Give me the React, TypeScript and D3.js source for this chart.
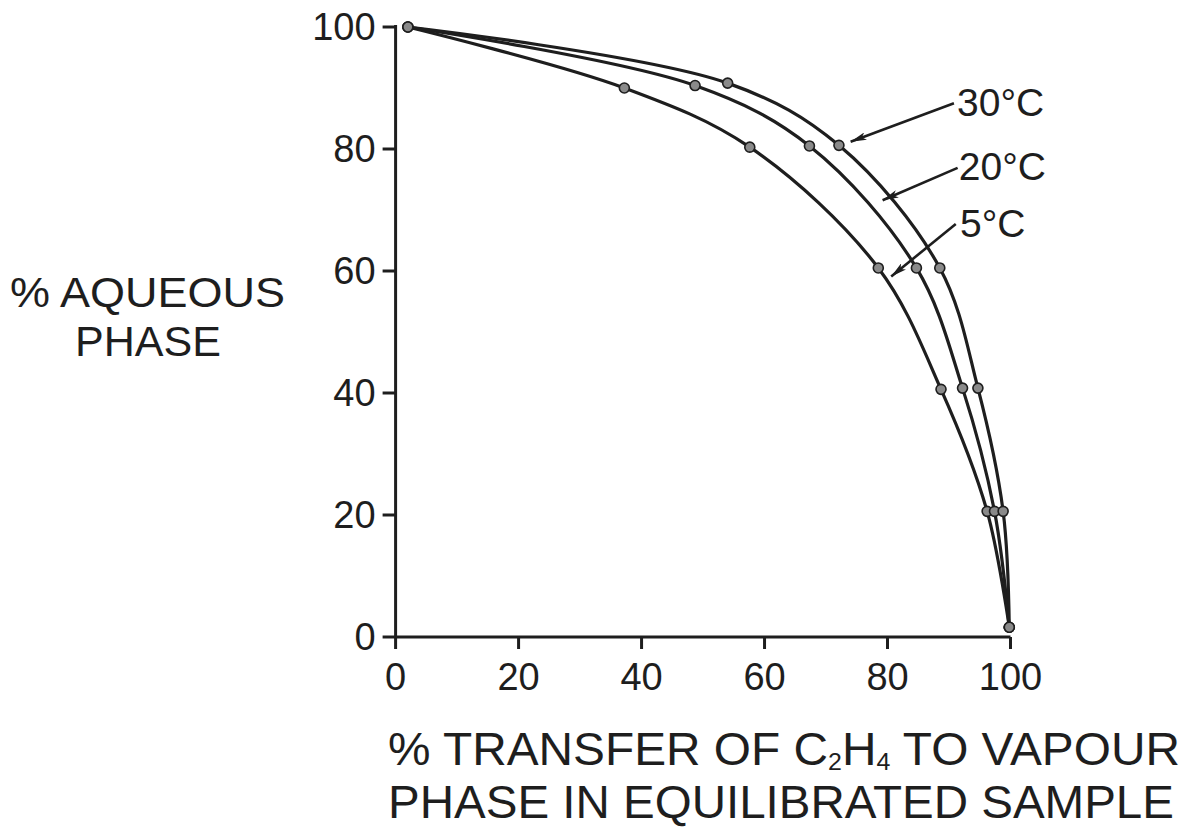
import React from "react";
import * as d3 from "d3";

// ---- data ----
const xTicks = [0, 20, 40, 60, 80, 100];
const yTicks = [0, 20, 40, 60, 80, 100];

const series5C = [
  { x: 2, y: 100 },
  { x: 37.2, y: 90 },
  { x: 57.6, y: 80.3 },
  { x: 78.5, y: 60.5 },
  { x: 88.7, y: 40.6 },
  { x: 96.2, y: 20.6 },
  { x: 99.8, y: 1.6 },
];
const series20C = [
  { x: 2, y: 100 },
  { x: 48.7, y: 90.4 },
  { x: 67.3, y: 80.5 },
  { x: 84.7, y: 60.5 },
  { x: 92.2, y: 40.8 },
  { x: 97.4, y: 20.6 },
  { x: 99.8, y: 1.6 },
];
const series30C = [
  { x: 2, y: 100 },
  { x: 54.0, y: 90.8 },
  { x: 72.1, y: 80.6 },
  { x: 88.5, y: 60.5 },
  { x: 94.7, y: 40.8 },
  { x: 98.8, y: 20.6 },
  { x: 99.8, y: 1.6 },
];

const seriesList = [
  { name: "5°C", data: series5C },
  { name: "20°C", data: series20C },
  { name: "30°C", data: series30C },
];

// arrows: start (label side) and end (on curve), in data units
const arrows = [
  { from: { x: 90.8, y: 87.5 }, to: { x: 74.0, y: 81.2 } },
  { from: { x: 91.4, y: 76.9 }, to: { x: 79.2, y: 71.6 } },
  { from: { x: 91.1, y: 67.7 }, to: { x: 80.6, y: 59.1 } },
];
const curveLabels = [
  { text: "30°C", x: 91.3, y: 85.4 },
  { text: "20°C", x: 91.6, y: 74.9 },
  { text: "5°C", x: 91.8, y: 65.5 },
];

const W = 1192;
const H = 830;
const FONT = "'Liberation Sans', Arial, sans-serif";
const INK = "#1e1e1e";

export default function App() {
  const x = d3.scaleLinear().domain([0, 100]).range([395.6, 1010.5]);
  const y = d3.scaleLinear().domain([0, 100]).range([637, 27]);

  const line = d3
    .line<{ x: number; y: number }>()
    .x((d) => x(d.x))
    .y((d) => y(d.y))
    .curve(d3.curveCatmullRom.alpha(0.5));

  return (
    <svg
      width={W}
      height={H}
      viewBox={`0 0 ${W} ${H}`}
      style={{ position: "absolute", left: 0, top: 0, background: "#fff" }}
    >
      <defs>
        <marker
          id="arr"
          viewBox="0 0 16 8"
          refX="16"
          refY="4"
          markerWidth="16"
          markerHeight="8"
          markerUnits="userSpaceOnUse"
          orient="auto"
        >
          <path d="M0,0 L16,4 L0,8 L4,4 Z" fill={INK} />
        </marker>
      </defs>
      <rect width={W} height={H} fill="#fff" />

      {/* axes */}
      <g stroke={INK} strokeWidth={3} fill="none">
        <line x1={x(0)} x2={x(0)} y1={y(100) - 2} y2={y(0)} />
        <line x1={x(0)} x2={x(100)} y1={y(0)} y2={y(0)} />
        {yTicks.map((t) => (
          <line key={"yt" + t} x1={x(0) - 13} x2={x(0)} y1={y(t)} y2={y(t)} />
        ))}
        {xTicks.map((t) => (
          <line key={"xt" + t} x1={x(t)} x2={x(t)} y1={y(0)} y2={y(0) + 12} />
        ))}
      </g>

      {/* tick labels */}
      <g fill={INK} fontFamily={FONT} fontSize={38}>
        {yTicks.map((t) => (
          <text
            key={"yl" + t}
            x={x(0) - 20}
            y={y(t) + 13}
            textAnchor="end"
          >
            {t}
          </text>
        ))}
        {xTicks.map((t) => (
          <text key={"xl" + t} x={x(t)} y={y(0) + 53} textAnchor="middle">
            {t}
          </text>
        ))}
      </g>

      {/* curves */}
      <g fill="none" stroke={INK} strokeWidth={3.2} strokeLinecap="round">
        {seriesList.map((s) => (
          <path key={s.name} d={line(s.data) || ""} />
        ))}
      </g>

      {/* points */}
      <g fill="#8a8a8a" stroke={INK} strokeWidth={1.6}>
        {seriesList.map((s) =>
          s.data.map((d, i) => (
            <circle key={s.name + i} cx={x(d.x)} cy={y(d.y)} r={5} />
          ))
        )}
      </g>

      {/* arrows */}
      <g stroke={INK} strokeWidth={2.6}>
        {arrows.map((a, i) => (
          <line
            key={"a" + i}
            x1={x(a.from.x)}
            y1={y(a.from.y)}
            x2={x(a.to.x)}
            y2={y(a.to.y)}
            markerEnd="url(#arr)"
          />
        ))}
      </g>

      {/* curve labels */}
      <g fill={INK} fontFamily={FONT} fontSize={39}>
        {curveLabels.map((l) => (
          <text key={l.text} x={x(l.x)} y={y(l.y)}>
            {l.text}
          </text>
        ))}
      </g>

      {/* y axis title */}
      <g fill={INK} fontFamily={FONT} fontSize={42}>
        <text x={10} y={307} textLength={275} lengthAdjust="spacingAndGlyphs">
          % AQUEOUS
        </text>
        <text x={75} y={356} textLength={146} lengthAdjust="spacingAndGlyphs">
          PHASE
        </text>
      </g>

      {/* x axis title */}
      <g fill={INK} fontFamily={FONT} fontSize={46}>
        <text x={388} y={765} textLength={792} lengthAdjust="spacingAndGlyphs">
          <tspan>% TRANSFER OF C</tspan>
          <tspan fontSize={24} dy={5}>2</tspan>
          <tspan dy={-5}>H</tspan>
          <tspan fontSize={24} dy={5}>4</tspan>
          <tspan dy={-5}> TO VAPOUR</tspan>
        </text>
        <text x={388} y={818} textLength={786} lengthAdjust="spacingAndGlyphs">
          PHASE IN EQUILIBRATED SAMPLE
        </text>
      </g>
    </svg>
  );
}
